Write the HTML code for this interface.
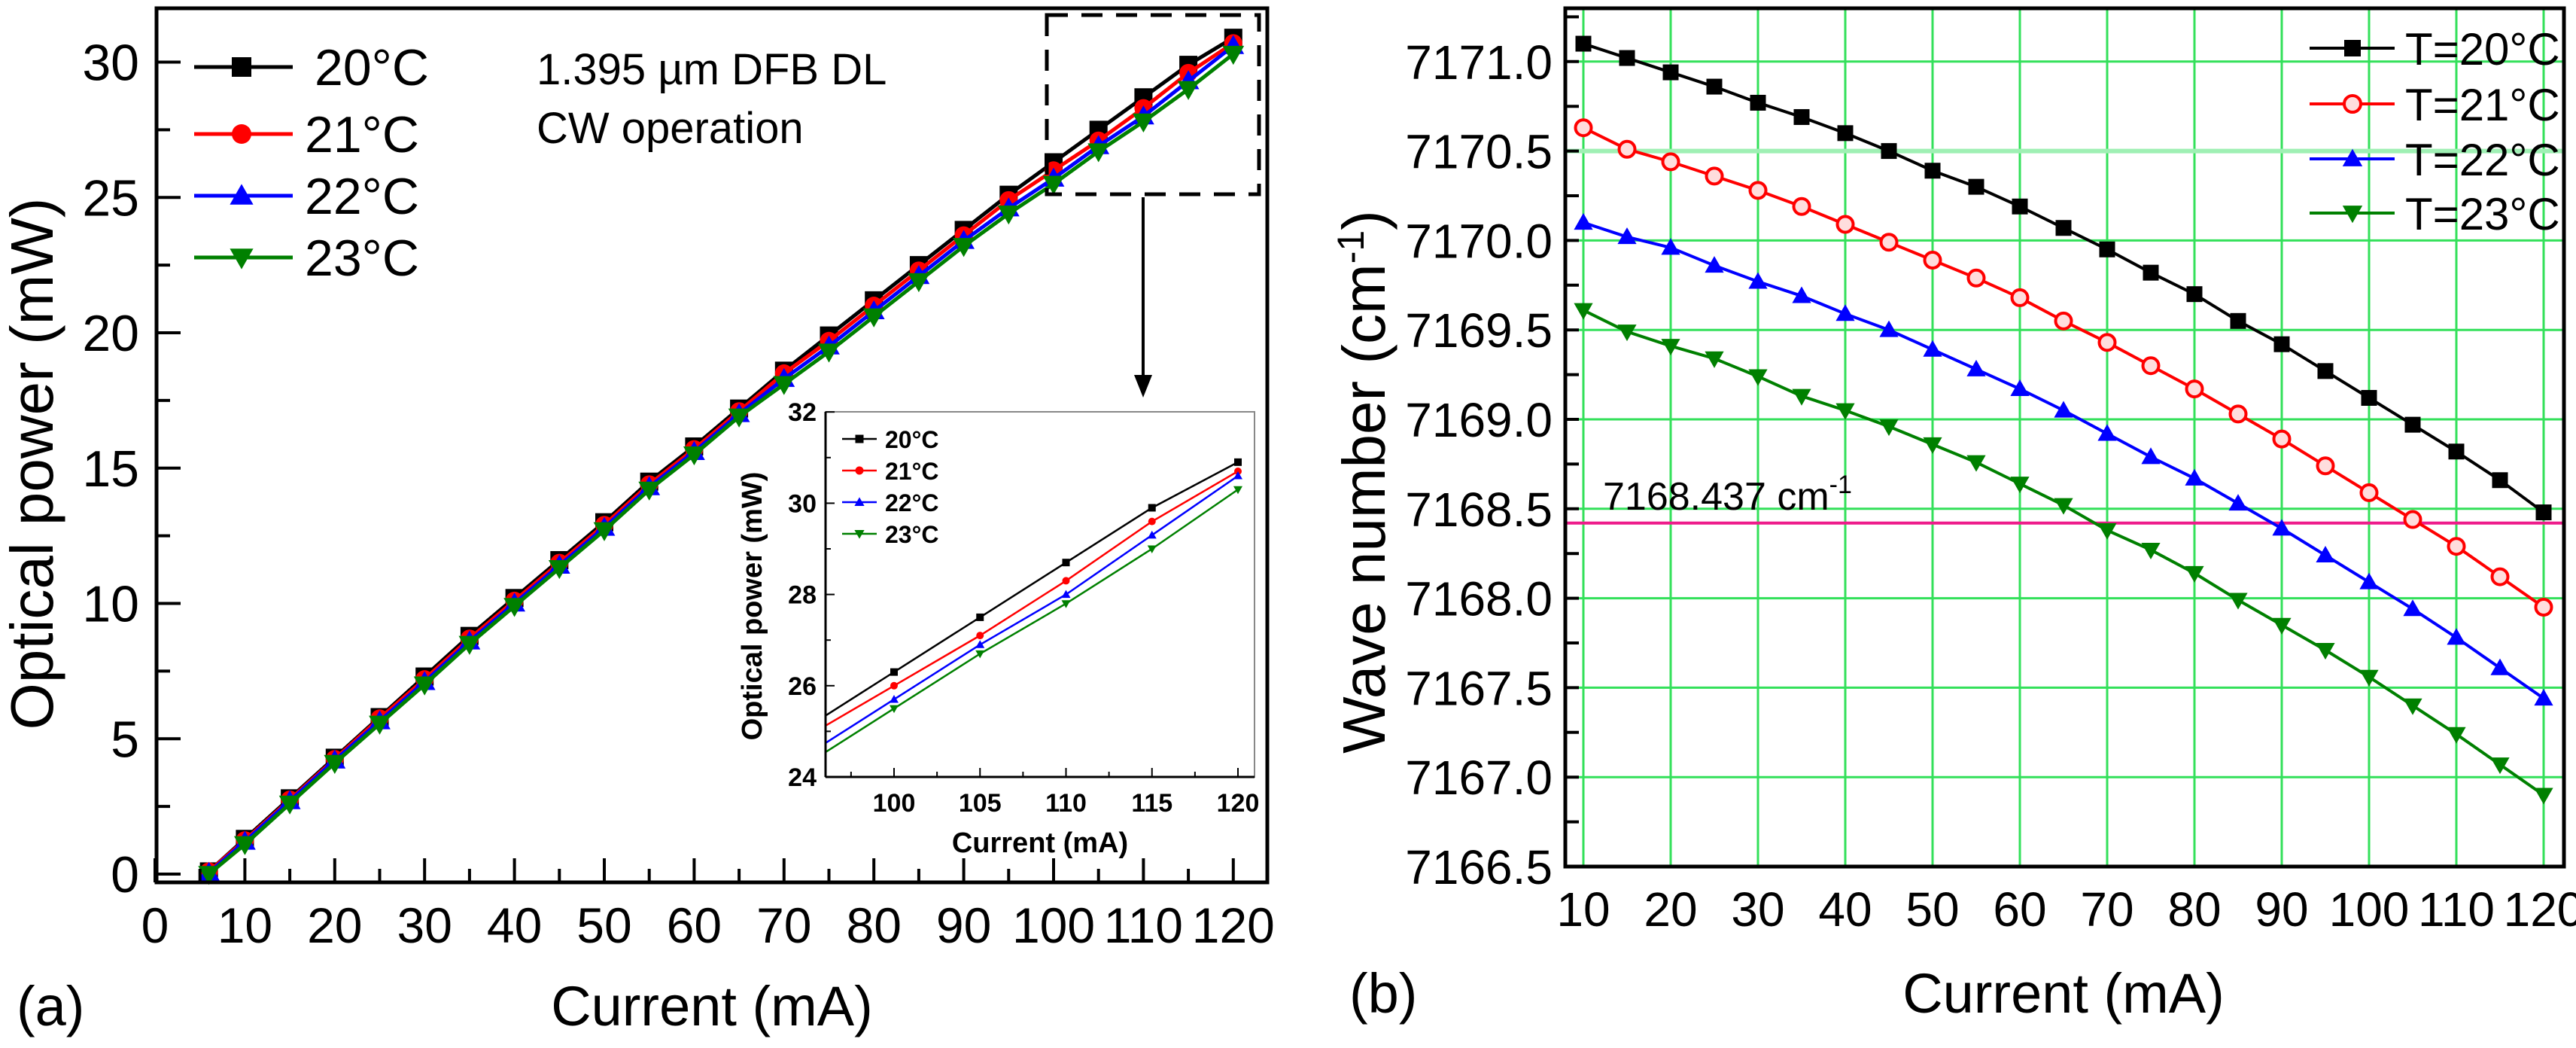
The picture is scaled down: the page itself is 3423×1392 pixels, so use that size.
<!DOCTYPE html>
<html><head><meta charset="utf-8"><style>
html,body{margin:0;padding:0;background:#fff}
svg{display:block;font-family:"Liberation Sans",Arial,sans-serif}
</style></head><body>
<svg id="c" width="3423" height="1392" viewBox="0 0 3423 1392" xmlns="http://www.w3.org/2000/svg"></svg>
<script>
// ---- Panel (a) data ----
const currentA = [6,10,15,20,25,30,35,40,45,50,55,60,65,70,75,80,85,90,95,100,105,110,115,120];
const powerT20 = [0.1,1.3,2.8,4.3,5.8,7.3,8.8,10.2,11.6,13.0,14.5,15.8,17.2,18.6,19.9,21.2,22.5,23.8,25.1,26.3,27.5,28.7,29.9,30.9];
const powerT21 = [0.1,1.25,2.75,4.25,5.75,7.2,8.7,10.1,11.5,12.9,14.4,15.7,17.1,18.5,19.7,21.0,22.3,23.6,24.9,26.0,27.1,28.3,29.6,30.7];
const powerT22 = [0.05,1.2,2.7,4.2,5.65,7.1,8.6,10.0,11.4,12.8,14.3,15.6,17.0,18.3,19.5,20.8,22.1,23.4,24.6,25.7,26.9,28.0,29.3,30.6];
const powerT23 = [0.0,1.1,2.6,4.1,5.55,7.0,8.5,9.9,11.3,12.7,14.2,15.5,16.9,18.1,19.3,20.6,21.9,23.2,24.4,25.5,26.7,27.8,29.0,30.3];
const xTicksA = [0,10,20,30,40,50,60,70,80,90,100,110,120];
const yTicksA = [0,5,10,15,20,25,30];
const insetX = [100,105,110,115,120];
const insetTicksX = [100,105,110,115,120];
const insetTicksY = [24,26,28,30,32];
// ---- Panel (b) data ----
const currentB = [10,15,20,25,30,35,40,45,50,55,60,65,70,75,80,85,90,95,100,105,110,115,120];
const waveT20 = [7171.1,7171.02,7170.94,7170.86,7170.77,7170.69,7170.60,7170.50,7170.39,7170.30,7170.19,7170.07,7169.95,7169.82,7169.70,7169.55,7169.42,7169.27,7169.12,7168.97,7168.82,7168.66,7168.48];
const waveT21 = [7170.63,7170.51,7170.44,7170.36,7170.28,7170.19,7170.09,7169.99,7169.89,7169.79,7169.68,7169.55,7169.43,7169.30,7169.17,7169.03,7168.89,7168.74,7168.59,7168.44,7168.29,7168.12,7167.95];
const waveT22 = [7170.10,7170.02,7169.96,7169.86,7169.77,7169.69,7169.59,7169.50,7169.39,7169.28,7169.17,7169.05,7168.92,7168.79,7168.67,7168.53,7168.39,7168.24,7168.09,7167.94,7167.78,7167.61,7167.44];
const waveT23 = [7169.61,7169.49,7169.41,7169.34,7169.24,7169.13,7169.05,7168.96,7168.86,7168.76,7168.64,7168.52,7168.38,7168.27,7168.14,7167.99,7167.85,7167.71,7167.56,7167.40,7167.24,7167.07,7166.90];
const xTicksB = [10,20,30,40,50,60,70,80,90,100,110,120];
const yTicksB = [7166.5,7167.0,7167.5,7168.0,7168.5,7169.0,7169.5,7170.0,7170.5,7171.0];
const refWave = 7168.42;
const seriesLabelsA = ["20°C","21°C","22°C","23°C"];
const seriesLabelsB = ["T=20°C","T=21°C","T=22°C","T=23°C"];

const NS="http://www.w3.org/2000/svg", svg=document.getElementById('c');
function el(tag,attrs,parent,text){const e=document.createElementNS(NS,tag);for(const k in attrs)e.setAttribute(k,attrs[k]);if(text!==undefined)e.textContent=text;(parent||svg).appendChild(e);return e;}
const colors=["#000000","#ff0000","#0000ff","#008000"];
function marker(g,type,x,y,s,c,hollow){
  let m;
  if(type===0) m=el('rect',{x:x-s/2,y:y-s/2,width:s,height:s,fill:c},g);
  else if(type===1){m=el('circle',{cx:x,cy:y,r:s/2,fill:hollow?'#ffdddd':c,stroke:c,'stroke-width':hollow?4:0},g);}
  else if(type===2) m=el('polygon',{points:`${x},${y-s*0.6} ${x-s*0.6},${y+s*0.45} ${x+s*0.6},${y+s*0.45}`,fill:c},g);
  else m=el('polygon',{points:`${x},${y+s*0.6} ${x-s*0.6},${y-s*0.45} ${x+s*0.6},${y-s*0.45}`,fill:c},g);
  return m;
}

// ===== Panel A =====
const A={l:208,r:1684,t:11,b:1172,x0:206,xs:11.94,y0:1161,ys:35.95};
const ax=v=>A.x0+v*A.xs, ay=v=>A.y0-v*A.ys;
const gA=el('g',{},svg);


const sA=[powerT20,powerT21,powerT22,powerT23];
sA.forEach((s,i)=>{
  const g=el('g',{},gA);
  
  
  el('polyline',{points:s.map((v,j)=>ax(currentA[j])+','+ay(v)).join(' '),fill:'none',stroke:colors[i],'stroke-width':5},g);
  s.forEach((v,j)=>{const m=marker(g,i,ax(currentA[j]),ay(v),24,colors[i]);
    
    });
});
el('rect',{x:A.l,y:A.t,width:A.r-A.l,height:A.b-A.t,fill:'none',stroke:'#000','stroke-width':5},gA);
for(let v=0;v<=120;v+=5){const x=ax(v);el('line',{x1:x,x2:x,y1:A.b,y2:A.b-(v%10===0?32:18),stroke:'#000','stroke-width':4},gA);}
xTicksA.forEach(v=>{const t=el('text',{x:ax(v),y:1252,'font-size':66,'text-anchor':'middle'},gA,String(v));
  
  });
for(let v=0;v<=30;v+=2.5){const y=ay(v);el('line',{x1:A.l,x2:A.l+(v%5===0?32:18),y1:y,y2:y,stroke:'#000','stroke-width':4},gA);}
yTicksA.forEach(v=>{const t=el('text',{x:185,y:ay(v)+24,'font-size':68,'text-anchor':'end'},gA,String(v));
  
  });
let t=el('text',{x:0,y:0,'font-size':80,'text-anchor':'middle',transform:'translate(70,616) rotate(-90)'},gA,'Optical power (mW)');

t=el('text',{x:946,y:1362,'font-size':74,'text-anchor':'middle'},gA,'Current (mA)');

t=el('text',{x:22,y:1362,'font-size':74},gA,'(a)');

// legend A
const legYA=[89,178,260,342];
seriesLabelsA.forEach((lab,i)=>{const g=el('g',{},gA);
  
  
  el('line',{x1:258,x2:389,y1:legYA[i],y2:legYA[i],stroke:colors[i],'stroke-width':5},g);
  marker(g,i,321,legYA[i],26,colors[i]);
  el('text',{x:(i===0?418:405),y:legYA[i]+24,'font-size':68},g,lab);});
t=el('text',{x:713,y:112,'font-size':58},gA,'1.395 µm DFB DL');

t=el('text',{x:713,y:190,'font-size':58},gA,'CW operation');

const box=el('rect',{x:1391,y:20,width:282,height:238,fill:'none',stroke:'#000','stroke-width':5,'stroke-dasharray':'28,18'},gA);

el('line',{x1:1519,x2:1519,y1:262,y2:500,stroke:'#000','stroke-width':4},gA);
el('polygon',{points:'1507,498 1531,498 1519,528',fill:'#000'},gA);
// inset
const I={l:1097,r:1667,t:547,b:1032,x0:1188,xs:22.85,y0:1032,ys:60.6};
const ix=v=>I.x0+(v-100)*I.xs, iy=v=>I.y0-(v-24)*I.ys;
const gI=el('g',{},gA);

el('rect',{x:I.l,y:I.t,width:I.r-I.l,height:I.b-I.t,fill:'#fff',stroke:'#888','stroke-width':2},gI);
const idx=insetX.map(v=>currentA.indexOf(v));
sA.forEach((s,i)=>{
  const vals=idx.map(j=>s[j]);
  const slope=(vals[1]-vals[0])/5, lv=vals[0]-slope*(100-96.05);
  const g=el('g',{},gI);
  
  el('polyline',{points:[ix(96.05)+','+iy(lv)].concat(vals.map((v,k)=>ix(insetX[k])+','+iy(v))).join(' '),fill:'none',stroke:colors[i],'stroke-width':2.5},g);
  vals.forEach((v,k)=>marker(g,i,ix(insetX[k]),iy(v),10,colors[i]));
});
el('line',{x1:I.l,x2:I.r,y1:I.b,y2:I.b,stroke:'#000','stroke-width':3},gI);
el('line',{x1:I.l,x2:I.l,y1:I.t,y2:I.b,stroke:'#000','stroke-width':3},gI);
for(let v=97.5;v<=120;v+=2.5){el('line',{x1:ix(v),x2:ix(v),y1:I.b,y2:I.b-(v%5===0?12:7),stroke:'#000','stroke-width':2},gI);}
insetTicksX.forEach(v=>el('text',{x:ix(v),y:1078,'font-size':34,'font-weight':'bold','text-anchor':'middle'},gI,String(v)));
for(let v=24;v<=32;v+=1){el('line',{x1:I.l,x2:I.l+(v%2===0?12:7),y1:iy(v),y2:iy(v),stroke:'#000','stroke-width':2},gI);}
insetTicksY.forEach(v=>el('text',{x:1085,y:iy(v)+12,'font-size':34,'font-weight':'bold','text-anchor':'end'},gI,String(v)));
el('text',{x:0,y:0,'font-size':38,'font-weight':'bold','text-anchor':'middle',transform:'translate(1012,805) rotate(-90)'},gI,'Optical power (mW)');
el('text',{x:1382,y:1132,'font-size':38,'font-weight':'bold','text-anchor':'middle'},gI,'Current (mA)');
const legYI=[583,625,667,709];
seriesLabelsA.forEach((lab,i)=>{el('line',{x1:1119,x2:1165,y1:legYI[i],y2:legYI[i],stroke:colors[i],'stroke-width':2.5},gI);
  marker(gI,i,1142,legYI[i],11,colors[i]);
  el('text',{x:1176,y:legYI[i]+12,'font-size':32,'font-weight':'bold'},gI,lab);});

// ===== Panel B =====
const B={l:2080,r:3407,t:11,b:1151,x0:1988,xs:11.6,ylo:7166.5,ys:237.6};
const bx=v=>B.x0+v*B.xs, by=v=>B.b-(v-B.ylo)*B.ys;
const gB=el('g',{},svg);

xTicksB.forEach(v=>{const l=el('line',{x1:bx(v),x2:bx(v),y1:B.t,y2:B.b,stroke:'#33e05a','stroke-width':3},gB);
  });
yTicksB.forEach(v=>{const l=el('line',{x1:B.l,x2:B.r,y1:by(v),y2:by(v),stroke:(v===7170.5?'#9ff0b4':'#33e05a'),'stroke-width':(v===7170.5?6:3)},gB);
  });
const ref=el('line',{x1:B.l,x2:B.r,y1:by(refWave),y2:by(refWave),stroke:'#ee1a8a','stroke-width':4},gB);

t=el('text',{x:2130,y:by(refWave)-18,'font-size':52},gB,'7168.437 cm');
el('tspan',{dy:-22,'font-size':34},t,'-1');

const sB=[waveT20,waveT21,waveT22,waveT23];
sB.forEach((s,i)=>{
  const g=el('g',{},gB);
  
  
  el('polyline',{points:s.map((v,j)=>bx(currentB[j])+','+by(v)).join(' '),fill:'none',stroke:colors[i],'stroke-width':4},g);
  s.forEach((v,j)=>{const m=marker(g,i,bx(currentB[j]),by(v),21,colors[i],true);
    
    });
});
el('rect',{x:B.l,y:B.t,width:B.r-B.l,height:B.b-B.t,fill:'none',stroke:'#000','stroke-width':5},gB);
for(let v=7166.5;v<=7171.3;v+=0.25){const y=by(v);el('line',{x1:B.l,x2:B.l+18,y1:y,y2:y,stroke:'#000','stroke-width':4},gB);}
xTicksB.forEach(v=>{const t2=el('text',{x:bx(v),y:1230,'font-size':64,'text-anchor':'middle'},gB,String(v));
  });
yTicksB.forEach(v=>{const t2=el('text',{x:2063,y:by(v)+23,'font-size':64,'text-anchor':'end'},gB,v.toFixed(1));
  });
t=el('text',{x:0,y:0,'font-size':80,'text-anchor':'middle',transform:'translate(1840,640) rotate(-90)'},gB,'Wave number (cm');
el('tspan',{dy:-28,'font-size':50},t,'-1');
el('tspan',{dy:28},t,')');

t=el('text',{x:2742,y:1345,'font-size':74,'text-anchor':'middle'},gB,'Current (mA)');

t=el('text',{x:1793,y:1345,'font-size':74},gB,'(b)');

const legYB=[64,138,211,283];
seriesLabelsB.forEach((lab,i)=>{const g=el('g',{},gB);
  
  
  el('line',{x1:3069,x2:3182,y1:legYB[i],y2:legYB[i],stroke:colors[i],'stroke-width':4},g);
  marker(g,i,3126,legYB[i],22,colors[i],true);
  el('text',{x:3196,y:legYB[i]+22,'font-size':60},g,lab);});
</script>
</body></html>
